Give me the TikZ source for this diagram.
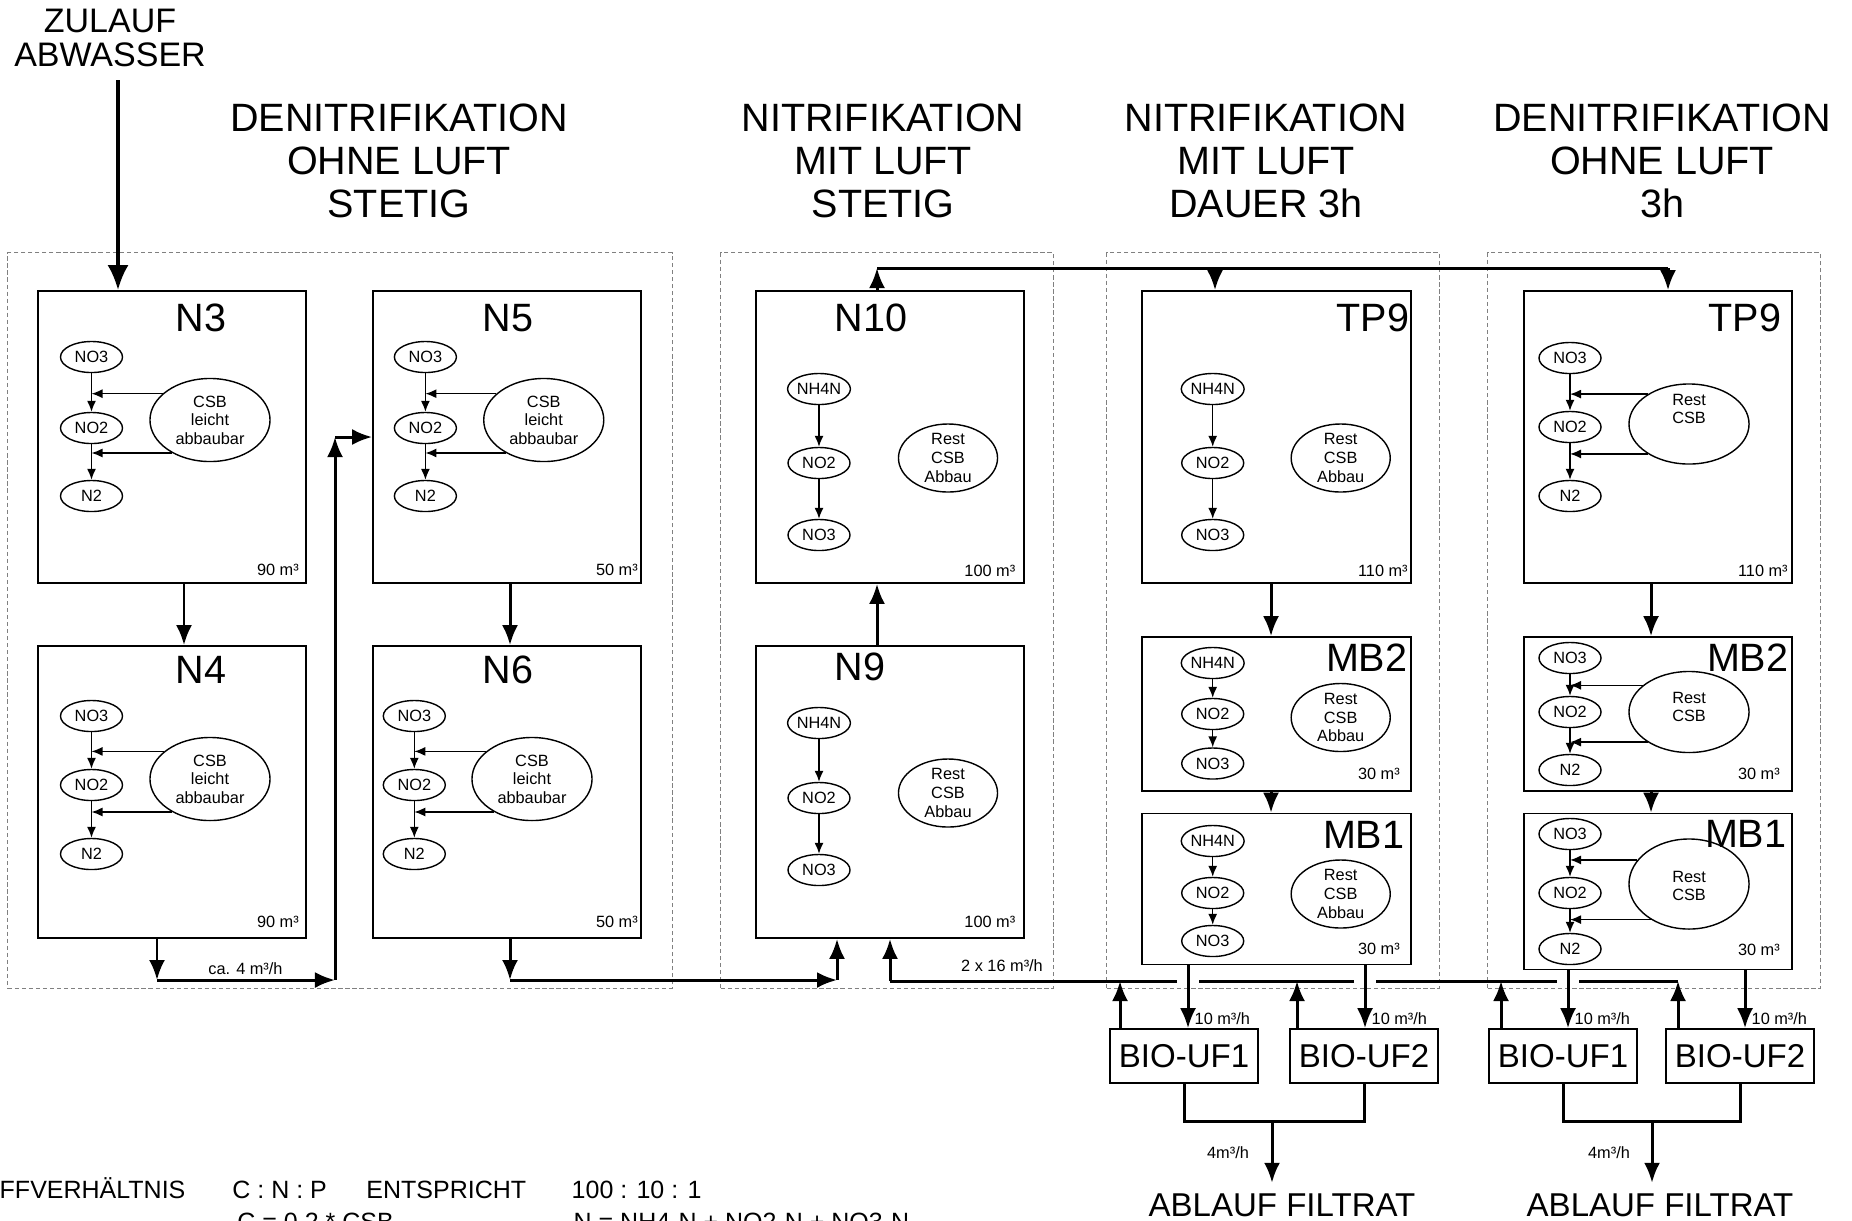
\documentclass[tikz,border=0pt]{standalone}
\usepackage{fontspec}
\setmainfont{Liberation Sans}
\usepackage{tikz}
\usetikzlibrary{arrows.meta,positioning,shapes.geometric,calc}
\newcommand{\fsbig}{\fontsize{11.24}{12.32}\selectfont}
\newcommand{\fssmall}{\fontsize{4.64}{5.29}\selectfont}
\newcommand{\fsmid}{\fontsize{9.39}{11}\selectfont}
\newcommand{\fszul}{\fontsize{9.67}{9.82}\selectfont}
\newcommand{\fsnote}{\fontsize{7.11}{8.5}\selectfont}
\tikzset{
  group/.style={
    draw=gray,
    line width=0.3pt,
    dash pattern=on 1.2pt off 0.8pt,
    inner sep=0pt,
    minimum width=3.32cm,
    minimum height=7.35cm
  },
  tank/.style={
    draw,
    line width=0.45pt,
    inner sep=0pt,
    minimum width=2.68cm,
    minimum height=2.92cm
  },
  tanklbl/.style={font=\fsbig, inner sep=0pt},
  vol/.style={font=\fssmall, inner sep=0pt},
  stoff/.style={
    draw,
    ellipse,
    line width=0.4pt,
    inner sep=0pt,
    minimum width=0.62cm,
    minimum height=0.31cm,
    font=\fssmall
  },
  csb/.style={draw, ellipse, line width=0.4pt, inner sep=0pt},
  csblbl/.style={font=\fssmall, align=center, inner sep=0pt},
  react/.style={-{Latex[length=1.1mm,width=0.9mm]}, line width=0.4pt},
  flow/.style={-{Latex[length=2mm,width=1.6mm]}, line width=0.85pt},
  bigflow/.style={-{Latex[length=2.5mm,width=2.1mm]}, line width=1pt},
  pipe/.style={line width=0.85pt},
  header/.style={font=\fsbig, align=center, inner sep=0pt},
  ufbox/.style={
    draw,
    line width=0.45pt,
    inner sep=0pt,
    minimum width=1.48cm,
    minimum height=0.54cm,
    font=\fsmid
  },
  rate/.style={font=\fssmall, inner sep=0pt},
  outlbl/.style={font=\fsmid, inner sep=0pt},
  note/.style={font=\fsnote, inner sep=0pt, anchor=base west}
}

\begin{document}
\begin{tikzpicture}[x=0.01cm, y=-0.01cm]
    \useasboundingbox (0,0) rectangle (1852,1220);

    % Bereiche
    \node[group, minimum width=6.64cm] (g1) at (340,620.5) {};
    \node[group] (g2) at (887,620.5) {};
    \node[group] (g3) at (1273,620.5) {};
    \node[group] (g4) at (1654,620.5) {};

    \node[header] (h1) at (399,161) {DENITRIFIKATION\\OHNE LUFT\\STETIG};
    \node[header] (h2) at (883,161) {NITRIFIKATION\\MIT LUFT\\STETIG};
    \node[header] (h3) at (1266,161) {NITRIFIKATION\\MIT LUFT\\DAUER 3h};
    \node[header] (h4) at (1662,161) {DENITRIFIKATION\\OHNE LUFT\\3h};
    \node[font=\fszul, align=center, inner sep=0pt] (zul) at (110,38) {ZULAUF\\ABWASSER};

    % Becken
    \node[tank] (n3) at (172,437) {};
    \node[tank] (n4) at (172,792) {};
    \node[tank] (n5) at (507,437) {};
    \node[tank] (n6) at (507,792) {};
    \node[tank] (n10) at (890,437) {};
    \node[tank] (n9) at (890,792) {};
    \node[tank, minimum width=2.69cm] (tp9a) at (1276.5,437) {};
    \node[tank, minimum width=2.69cm, minimum height=1.54cm] (mb2a) at (1276.5,714) {};
    \node[tank, minimum width=2.69cm, minimum height=1.51cm] (mb1a) at (1276.5,889) {};
    \node[tank] (tp9b) at (1658,437) {};
    \node[tank, minimum height=1.54cm] (mb2b) at (1658,714) {};
    \node[tank, minimum height=1.56cm] (mb1b) at (1658,891.5) {};

    \foreach \tk/\x/\y/\lb in {n3/201/318/N3, n4/201/670/N4, n5/508/318/N5, n6/508/670/N6, n10/871/318/N10, n9/860/667/N9}
      \node[tanklbl] (\tk lbl) at (\x,\y) {\lb};
    \foreach \tk/\x/\y/\lb in {tp9a/1410/318/TP9, mb2a/1408/658/MB2, mb1a/1405/835/MB1, tp9b/1782/318/TP9, mb2b/1789/658/MB2, mb1b/1787/834/MB1}
      \node[tanklbl, anchor=east] (\tk lbl) at (\x,\y) {\lb};
    \foreach \tk/\vv/\dx/\dy in {n3/90/29/14, n4/90/29/17, n5/50/25/14, n6/50/25/17, n10/100/35/13, n9/100/35/17, tp9a/110/29/13, tp9b/110/30/13, mb2a/30/33/18, mb1a/30/33/16, mb2b/30/34/18, mb1b/30/34/20}
      \node[vol] (\tk vol) at ([shift={(-\dx,-\dy)}]\tk.south east) {\vv{} m³};

    % Denitrifikation
    \foreach \tk/\x/\ya/\yb/\yc/\cx/\cy/\au/\ad in {n3/91.5/357/428/496/210/420/151/221, n4/91.5/716/785/854/210/779/149/221, n5/425.4/357/428/496/543.75/420/151/221, n6/414.3/716/785/854/532/779/149/221} {
      \node[stoff] (\tk no3) at (\x,\ya) {NO3};
      \node[stoff] (\tk no2) at (\x,\yb) {NO2};
      \node[stoff] (\tk n2) at (\x,\yc) {N2};
      \node[csb, minimum width=1.2cm, minimum height=0.83cm] (\tk csb) at (\cx,\cy) {};
      \node[csblbl] (\tk csbt) at (\tk csb) {CSB\\leicht\\abbaubar};
      \draw[react] (\tk no3) -- (\tk no2);
      \draw[react] (\tk no2) -- (\tk n2);
      \draw[react] (\tk csb.\au) -- (\tk csb.\au -| \tk no3);
      \draw[react] (\tk csb.\ad) -- (\tk csb.\ad -| \tk no3);
    }
    \foreach \tk/\ya/\yb/\yc/\cy/\ch/\ty/\au/\ad in {tp9b/358/427/496/424/0.80/409/144/216, mb2b/658/712/770/712/0.81/707/150/216, mb1b/834/893/949/884/0.90/886/155/223} {
      \node[stoff] (\tk no3) at (1570,\ya) {NO3};
      \node[stoff] (\tk no2) at (1570,\yb) {NO2};
      \node[stoff] (\tk n2) at (1570,\yc) {N2};
      \node[csb, minimum width=1.2cm, minimum height=\ch cm] (\tk csb) at (1689,\cy) {};
      \node[csblbl] (\tk csbt) at (1689,\ty) {Rest\\CSB};
      \draw[react] (\tk no3) -- (\tk no2);
      \draw[react] (\tk no2) -- (\tk n2);
      \draw[react] (\tk csb.\au) -- (\tk csb.\au -| \tk no3);
      \draw[react] (\tk csb.\ad) -- (\tk csb.\ad -| \tk no3);
    }

    % Nitrifikation
    \foreach \tk/\x/\ya/\yb/\yc/\cx/\cy in {n10/819/389/463/535/948/458, n9/819/723/798/870/948/793, tp9a/1212.7/389/463/535/1340.7/458, mb2a/1212.7/663/714/763.5/1340.7/717.5, mb1a/1212.7/841/893/941/1340.7/894} {
      \node[stoff] (\tk nh4) at (\x,\ya) {NH4N};
      \node[stoff] (\tk no2) at (\x,\yb) {NO2};
      \node[stoff] (\tk no3) at (\x,\yc) {NO3};
      \node[csb, minimum width=0.99cm, minimum height=0.68cm] (\tk rest) at (\cx,\cy) {};
      \node[csblbl] (\tk restt) at (\tk rest) {Rest\\CSB\\Abbau};
      \draw[react] (\tk nh4) -- (\tk no2);
      \draw[react] (\tk no2) -- (\tk no3);
    }

    % Zulauf und Verbindungen
    \coordinate (z1) at (118,80);
    \draw[bigflow] (z1) -- (z1 |- n3.north);
    \draw[flow] ([shift={(12,0)}]n3.south) -- ([shift={(12,0)}]n4.north);
    \draw[flow] ([shift={(3,0)}]n5.south) -- ([shift={(3,0)}]n6.north);

    \coordinate (b1) at (157,980);
    \coordinate (b2) at (335,980);
    \draw[flow] (b1 |- n4.south) -- (b1);
    \draw[flow] (b1) -- (b2);
    \draw[flow] (b2) -- (b2 |- n5.west);
    \draw[flow] (b2 |- n5.west) -- (n5.west);
    \node[rate] (q1) at (245.5,969) {ca. 4 m³/h};

    \coordinate (b4) at (510,980);
    \coordinate (b5) at (837,980);
    \draw[flow] (b4 |- n6.south) -- (b4);
    \draw[flow] (b4) -- (b5);
    \draw[flow] (b5) -- (b5 |- n9.south);

    \coordinate (t1) at (877,268);
    \coordinate (t2) at (1668,268);
    \coordinate (t3) at (1215,268);
    \draw[flow] (t1 |- n9.north) -- (t1 |- n10.south);
    \draw[flow] (t1 |- n10.north) -- (t1);
    \draw[pipe] (t1) -- (t2);
    \draw[flow] (t3) -- (t3 |- tp9a.north);
    \draw[flow] (t2) -- (t2 |- tp9b.north);

    \draw[flow] ([shift={(-5.5,0)}]tp9a.south) -- ([shift={(-5.5,0)}]mb2a.north);
    \draw[flow] ([shift={(-5.5,0)}]mb2a.south) -- ([shift={(-5.5,0)}]mb1a.north);
    \draw[flow] ([shift={(-7,0)}]tp9b.south) -- ([shift={(-7,0)}]mb2b.north);
    \draw[flow] ([shift={(-7,0)}]mb2b.south) -- ([shift={(-7,0)}]mb1b.north);

    % Membranfiltration
    \node[ufbox] (ufa1) at (1184,1056) {BIO-UF1};
    \node[ufbox] (ufa2) at (1364,1056) {BIO-UF2};
    \node[ufbox] (ufb1) at (1563,1056) {BIO-UF1};
    \node[ufbox] (ufb2) at (1740,1056) {BIO-UF2};

    \coordinate (d1) at (1188,981);
    \coordinate (d2) at (1365,981);
    \coordinate (d3) at (1568,981);
    \coordinate (d4) at (1745,981);
    \draw[flow] (d1 |- mb1a.south) -- (d1 |- ufa1.north);
    \draw[flow] (d2 |- mb1a.south) -- (d2 |- ufa2.north);
    \draw[flow] (d3 |- mb1b.south) -- (d3 |- ufb1.north);
    \draw[flow] (d4 |- mb1b.south) -- (d4 |- ufb2.north);
    \foreach \d in {d1,d2,d3,d4}
      \node[rate, anchor=west] (\d lbl) at ([shift={(6,38)}]\d) {10 m³/h};

    \coordinate (u1) at (1120,981);
    \coordinate (u2) at (1297,981);
    \coordinate (u3) at (1501,981);
    \coordinate (u4) at (1678,981);
    \coordinate (r1) at (890,981);
    \draw[flow] (u1 |- ufa1.north) -- (u1);
    \draw[flow] (u2 |- ufa2.north) -- (u2);
    \draw[flow] (u3 |- ufb1.north) -- (u3);
    \draw[flow] (u4 |- ufb2.north) -- (u4);
    \draw[pipe] (u4) -- ([xshift=0.11cm]d3);
    \draw[pipe] ([xshift=-0.11cm]d3) -- ([xshift=0.11cm]d2);
    \draw[pipe] ([xshift=-0.11cm]d2) -- ([xshift=0.11cm]d1);
    \draw[pipe] ([xshift=-0.11cm]d1) -- (r1);
    \draw[flow] (r1) -- (r1 |- n9.south);
    \node[rate] (q2) at (1002,966) {2 x 16 m³/h};

    % Ablauf
    \node[outlbl] (outa) at (1282,1205) {ABLAUF FILTRAT};
    \node[outlbl] (outb) at (1660,1205) {ABLAUF FILTRAT};
    \coordinate (j1) at (1272,1121);
    \coordinate (j2) at (1652,1121);
    \draw[pipe] (ufa1.south) -- (ufa1.south |- j1) -- (ufa2.south |- j1) -- (ufa2.south);
    \draw[pipe] (ufb1.south) -- (ufb1.south |- j2) -- (ufb2.south |- j2) -- (ufb2.south);
    \draw[flow] (j1) -- ([yshift=0.1cm]j1 |- outa.north);
    \draw[flow] (j2) -- ([yshift=0.1cm]j2 |- outb.north);
    \node[rate] (qa) at (1228,1153) {4m³/h};
    \node[rate] (qb) at (1609,1153) {4m³/h};

    % Naehrstoffverhaeltnis
    \node[note] (r1a) at (-1,1198) {FFVERHÄLTNIS};
    \node[note] (r1b) at (231.7,1198) {C : N : P};
    \node[note] (r1c) at (365.7,1198) {ENTSPRICHT};
    \node[note] (r1d) at (571,1198) {100 : 10 : 1};
    \node[note] (r2a) at (236.7,1230) {C = 0.2 * CSB};
    \node[note] (r2b) at (573,1230) {N = NH4-N + NO2-N + NO3-N};
\end{tikzpicture}
\end{document}
